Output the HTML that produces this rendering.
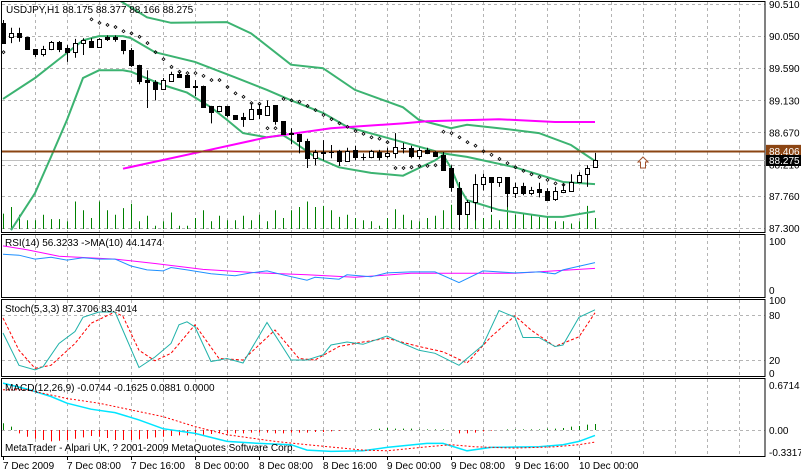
<!DOCTYPE html>
<html><head><meta charset="utf-8"><style>
html,body{margin:0;padding:0;background:#fff;}
svg{display:block;font-family:"Liberation Sans",sans-serif;font-size:10px;}
</style></head><body>
<svg id="chart" width="801" height="473" viewBox="0 0 801 473" xmlns="http://www.w3.org/2000/svg"></svg>
<script>
// ---- data ----
const opens=[90.24,90.04,90.09,90.04,89.86,89.79,89.86,89.97,89.88,89.82,89.95,89.98,89.89,90.04,90.04,89.99,89.85,89.64,89.42,89.39,89.29,89.41,89.51,89.49,89.34,89.34,89.05,88.98,89.05,88.92,88.89,88.86,89.00,88.92,89.06,88.83,88.66,88.65,88.55,88.30,88.39,88.39,88.40,88.26,88.42,88.32,88.32,88.39,88.33,88.37,88.45,88.45,88.33,88.42,88.39,88.35,88.16,87.87,87.50,87.67,87.93,88.03,87.96,88.03,87.80,87.90,87.80,87.86,87.83,87.72,87.82,87.83,87.96,88.07,88.175];
const highs=[90.28,90.17,90.17,90.04,89.86,89.91,89.98,89.98,89.92,90.01,90.02,90.02,90.02,90.06,90.06,89.99,89.88,89.64,89.56,89.42,89.45,89.54,89.54,89.51,89.42,89.34,89.05,89.05,89.05,88.92,88.95,89.09,89.08,89.13,89.06,88.83,88.73,88.65,88.58,88.42,88.56,88.49,88.42,88.45,88.48,88.37,88.42,88.42,88.45,88.66,88.52,88.48,88.45,88.45,88.40,88.39,88.20,87.96,87.70,88.07,88.08,88.03,88.03,88.03,87.95,87.95,87.89,87.95,87.87,87.89,87.93,88.07,88.10,88.20,88.377];
const lows=[89.94,89.95,89.97,89.86,89.75,89.76,89.85,89.82,89.68,89.74,89.78,89.89,89.89,89.98,89.97,89.79,89.61,89.36,89.02,89.13,89.29,89.41,89.45,89.31,89.19,89.03,88.80,88.96,88.89,88.85,88.75,88.86,88.86,88.92,88.78,88.65,88.50,88.37,88.16,88.20,88.27,88.30,88.19,88.26,88.27,88.27,88.30,88.27,88.30,88.30,88.37,88.30,88.29,88.36,88.32,88.13,87.82,87.27,87.49,87.41,87.84,87.53,87.89,87.60,87.73,87.77,87.77,87.74,87.69,87.69,87.80,87.83,87.96,87.89,88.166];
const closes=[89.95,90.09,90.04,89.86,89.79,89.86,89.97,89.86,89.82,89.95,89.99,89.89,90.01,90.01,90.01,89.85,89.64,89.41,89.39,89.29,89.42,89.51,89.46,89.32,89.32,89.03,88.96,89.05,88.92,88.86,88.86,89.00,88.93,89.05,88.83,88.65,88.65,88.55,88.30,88.39,88.38,88.39,88.26,88.40,88.32,88.32,88.40,88.32,88.37,88.46,88.45,88.33,88.42,88.37,88.33,88.13,87.89,87.50,87.67,87.93,88.03,87.96,88.03,87.80,87.89,87.80,87.84,87.82,87.70,87.83,87.84,87.96,88.06,88.16,88.275];
const volumes=[14,20,13,8,8,13,9,9,7,25,17,10,25,17,13,19,23,7,12,3,7,15,3,3,10,17,7,12,8,8,12,8,13,7,17,10,17,20,25,20,21,17,11,13,10,8,7,3,10,18,13,8,7,10,12,17,22,13,17,18,10,13,8,23,13,15,13,11,11,7,7,5,7,21,10];
const bbMidIdx=[0,4,8,10,12,15,16,19,24,29,33,36,40,43,50,55,58,64,70,74];
const bbMidVal=[89.15,89.45,89.81,89.99,90.05,90.05,90.02,89.82,89.68,89.46,89.28,89.13,88.95,88.75,88.53,88.37,88.32,88.17,87.96,87.93];
const bbUpIdx=[14,18,21,28,31,36,40,44,50,52,56,58,62,67,71,74];
const bbUpVal=[90.60,90.32,90.24,90.25,90.09,89.64,89.59,89.28,89.03,88.85,88.73,88.78,88.73,88.66,88.49,88.26];
const bbLoIdx=[1,4,6,8,10,12,15,16,20,23,26,28,30,33,35,36,39,42,46,50,52,54,55,56,57,58,62,68,70,74];
const bbLoVal=[87.27,87.80,88.32,88.85,89.45,89.56,89.56,89.54,89.35,89.24,89.03,88.85,88.66,88.60,88.63,88.56,88.32,88.17,88.09,88.05,88.16,88.27,88.35,88.16,87.89,87.70,87.56,87.46,87.46,87.54];
const sarIdx=[0,11,12,13,14,15,16,17,18,19,20,21,22,23,24,25,26,27,28,29,30,31,32,33,34,35,36,37,38,39,40,41,42,43,44,45,46,47,48,49,50,51,52,53,54,55,56,57,58,59,60,61,62,63,64,65,66,67,68,69,70];
const sarVal=[89.82,90.29,90.24,90.21,90.18,90.12,90.09,90.04,89.95,89.82,89.72,89.61,89.54,89.52,89.52,89.48,89.42,89.42,89.32,89.23,89.18,89.09,89.08,88.73,88.73,89.15,89.13,89.11,89.05,88.99,88.92,88.86,88.80,88.75,88.69,88.65,88.60,88.58,88.53,88.16,88.16,88.17,88.19,88.19,88.20,88.68,88.66,88.60,88.53,88.48,88.40,88.35,88.29,88.23,88.17,88.12,88.07,88.03,87.99,87.94,87.92];
const maIdx=[15,25,33,41,50,53,62,69,74];
const maVal=[88.15,88.40,88.60,88.73,88.80,88.83,88.86,88.82,88.82];
const priceTicks=[90.510,90.050,89.590,89.130,88.670,88.210,87.760,87.300];
const priceTickLabels=["90.510","90.050","89.590","89.130","88.670","88.210","87.760","87.300"];
const hlinePrice=88.406;
const bidPrice=88.275;
const rsiIdx=[0,2,4,6,8,10,12,14,16,18,20,21,23,26,29,31,33,35,38,39,42,43,46,48,51,54,57,60,64,67,69,70,74];
const rsiVal=[73,71,63,67,61,66,63,63,49,41,39,46,41,33,29,35,39,31,20,26,22,31,27,35,37,37,15,39,35,37,33,41,56];
const rsiMaIdx=[0,3,7,14,19,25,32,38,44,51,57,64,74];
const rsiMaVal=[90,82,69,63,54,42,35,31,26,34,34,34,44];
const stIdx=[0,2,4,5,7,9,10,12,14,17,19,21,22,23,24,26,28,30,33,36,38,40,41,43,45,48,50,52,54,57,60,62,64,65,67,69,70,72,74];
const stVal=[56,13,7,11,42,58,77,84,84,10,24,42,67,71,64,18,22,16,70,20,20,27,40,44,41,52,42,33,29,13,40,86,77,50,50,38,40,77,87];
const sgIdx=[0,2,4,6,9,11,14,15,17,19,21,24,27,30,34,37,39,42,45,48,52,55,58,61,64,66,69,72,74];
const sgVal=[76,33,9,13,42,69,84,78,33,19,29,67,22,20,60,22,20,38,44,49,38,31,16,51,79,60,38,51,83];
const macdIdx=[0,3,6,8,11,14,17,20,24,28,32,36,38,41,45,48,53,55,58,61,67,70,72,74];
const macdVal=[0.70,0.61,0.50,0.40,0.31,0.26,0.15,0.02,-0.05,-0.17,-0.20,-0.22,-0.30,-0.32,-0.31,-0.26,-0.20,-0.20,-0.31,-0.26,-0.25,-0.22,-0.17,-0.08];
const sigIdx=[0,3,8,12,16,20,24,28,34,38,45,48,53,56,59,64,69,72,74];
const sigVal=[0.60,0.60,0.47,0.40,0.30,0.20,0.05,-0.07,-0.17,-0.22,-0.30,-0.31,-0.25,-0.22,-0.25,-0.27,-0.25,-0.22,-0.18];
const histVal=[0.10,0.05,-0.05,-0.10,-0.13,-0.15,-0.17,-0.16,-0.15,-0.13,-0.11,-0.09,-0.10,-0.12,-0.15,-0.15,-0.15,-0.14,-0.13,-0.11,-0.10,-0.09,-0.08,-0.08,-0.07,-0.07,-0.06,-0.05,-0.05,-0.05,-0.05,-0.04,-0.04,-0.04,-0.05,-0.05,-0.04,-0.04,-0.04,-0.03,-0.03,-0.02,-0.01,0,0,0,0.01,0.02,0.03,0.02,0.02,0.02,0.01,0.01,0.01,0.01,0,-0.05,-0.05,-0.04,-0.02,-0.01,0,0.01,0.01,0.01,0.01,0.01,0.02,0.02,0.03,0.05,0.06,0.08,0.09];
const dateLabels=["7 Dec 2009","7 Dec 08:00","7 Dec 16:00","8 Dec 00:00","8 Dec 08:00","8 Dec 16:00","9 Dec 00:00","9 Dec 08:00","9 Dec 16:00","10 Dec 00:00"];
const dateIdx=[0,8,16,24,32,40,48,56,64,72];

// ---- axes ----
const svg=document.getElementById('chart');
const NS='http://www.w3.org/2000/svg';
const R=765;
const xb=i=>3+8*i;
const yP=p=>4+(90.51-p)*69.8;
const yVol=v=>229-v*1.1;
const yRsi=v=>290-v*0.49;
const ySt=v=>375-v*0.75;
const yMacd=v=>430-v*67;
function mk(tag,a,parent){const e=document.createElementNS(NS,tag);for(const k in a)e.setAttribute(k,a[k]);(parent||svg).appendChild(e);return e;}
function poly(idx,val,yf,attrs,parent){return mk('polyline',Object.assign({points:idx.map((ix,k)=>xb(ix)+','+yf(val[k]).toFixed(1)).join(' '),fill:'none'},attrs),parent);}
const panels=[[1,232],[234,297],[299,376],[378,456]];
const defs=mk('defs',{});
const cp=mk('clipPath',{id:'mainclip'},defs);
mk('rect',{x:2,y:2,width:R-2,height:229},cp);
const cp2=mk('clipPath',{id:'subclip'},defs);
mk('rect',{x:2,y:234,width:R-2,height:222},cp2);

const grid=mk('g',{stroke:'#b4b4b4','stroke-dasharray':'3,3','stroke-width':1});


for(let k=1;k<=23;k++){const x=3+32*k+0.5;panels.forEach(p=>mk('line',{x1:x,x2:x,y1:p[0]+1,y2:p[1]},grid));}
priceTicks.forEach(p=>{const y=Math.round(yP(p))+0.5;mk('line',{x1:2,x2:R,y1:y,y2:y},grid);});
[80,20].forEach(v=>{const y=Math.round(ySt(v))+0.5;mk('line',{x1:2,x2:R,y1:y,y2:y},grid);});
{const y=Math.round(yMacd(0))+0.5;mk('line',{x1:2,x2:R,y1:y,y2:y},grid);}

panels.forEach((p,k)=>{const r=mk('rect',{x:1.5,y:p[0]+0.5,width:R-1.5,height:p[1]-p[0],fill:'none',stroke:'#000'});

});

const main=mk('g',{'clip-path':'url(#mainclip)'});


volumes.forEach((v,i)=>{const l=mk('line',{x1:xb(i)+0.5,x2:xb(i)+0.5,y1:229,y2:yVol(v),stroke:'#008000'},main);

});
const bl=mk('line',{x1:2,x2:R,y1:Math.round(yP(bidPrice))+0.5,y2:Math.round(yP(bidPrice))+0.5,stroke:'#c0c0c0'},main);


[[bbUpIdx,bbUpVal,'bollinger-upper'],[bbMidIdx,bbMidVal,'bollinger-middle'],[bbLoIdx,bbLoVal,'bollinger-lower']].forEach(b=>{
const pl=poly(b[0],b[1],yP,{stroke:'#3cb371','stroke-width':2},main);

});
const ma=poly(maIdx,maVal,yP,{stroke:'#ff00ff','stroke-width':2},main);


const hl=mk('line',{x1:2,x2:R,y1:Math.round(yP(hlinePrice))+0.5,y2:Math.round(yP(hlinePrice))+0.5,stroke:'#8b4513','stroke-width':2},main);


opens.forEach((o,i)=>{const x=xb(i)+0.5,c=closes[i];
const g=mk('g',{},main);


mk('line',{x1:x,x2:x,y1:yP(highs[i]),y2:yP(lows[i]),stroke:'#000'},g);
const t=Math.round(yP(Math.max(o,c)))+0.5,b=Math.round(yP(Math.min(o,c)))+0.5;
if(b-t<1)mk('line',{x1:x-2.5,x2:x+2.5,y1:t,y2:t,stroke:'#000'},g);
else mk('rect',{x:x-2,y:t,width:4,height:b-t,fill:c>=o?'#fff':'#000',stroke:'#000'},g);});
sarIdx.forEach((ix,k)=>{const x=xb(ix)+0.5,y=yP(sarVal[k]);
const d=mk('polygon',{points:`${x},${y-1.5} ${x+1.5},${y} ${x},${y+1.5} ${x-1.5},${y}`,fill:'none',stroke:'#000','stroke-width':0.8},main);

});
const arr=mk('polygon',{points:'643,157 648,162 645.5,162 645.5,168 640.5,168 640.5,162 638,162',fill:'#fff',stroke:'#a0522d'},main);



const sub=mk('g',{'clip-path':'url(#subclip)'});


const rm=poly(rsiMaIdx,rsiMaVal,yRsi,{stroke:'#ff00ff'},sub);


const rl=poly(rsiIdx,rsiVal,yRsi,{stroke:'#1e90ff'},sub);


const sgl=poly(sgIdx,sgVal,ySt,{stroke:'#ff0000','stroke-dasharray':'3,2'},sub);


const stl=poly(stIdx,stVal,ySt,{stroke:'#20b2aa'},sub);


histVal.forEach((v,i)=>{const l=mk('line',{x1:xb(i)+0.5,x2:xb(i)+0.5,y1:yMacd(0),y2:yMacd(v),stroke:v>=0?'#008000':'#ff0000'},sub);

});
const ml=poly(macdIdx,macdVal,yMacd,{stroke:'#00e5ff','stroke-width':1.5},sub);


const sl=poly(sigIdx,sigVal,yMacd,{stroke:'#ff0000','stroke-dasharray':'2,2'},sub);



function txt(x,y,s,name,attrs){const t=mk('text',Object.assign({x:x,y:y,fill:'#000'},attrs||{}));t.textContent=s;

return t;}
priceTicks.forEach((p,k)=>txt(769,yP(p)+4,priceTickLabels[k],'price-tick-label'));
const hb=mk('rect',{x:766,y:yP(hlinePrice)-6,width:35,height:12,fill:'#8b4513'});


txt(769,yP(hlinePrice)+4,'88.406','hline-price-label',{fill:'#fff'});
const bb=mk('rect',{x:766,y:yP(bidPrice)-5,width:35,height:11,fill:'#000'});


txt(769,yP(bidPrice)+4,'88.275','bid-price-label',{fill:'#fff'});
txt(769,yRsi(100)+4,'100','rsi-tick-label');
txt(769,yRsi(0)+4,'0','rsi-tick-label');
txt(769,ySt(100)+4,'100','stoch-tick-label');
txt(769,ySt(80)+4,'80','stoch-tick-label');
txt(769,ySt(20)+4,'20','stoch-tick-label');
txt(769,ySt(0)+2,'0','stoch-tick-label');
txt(769,yMacd(0.6714)+4,'0.6714','macd-tick-label');
txt(769,yMacd(0)+4,'0.00','macd-tick-label');
txt(769,yMacd(-0.3317)+4,'-0.3317','macd-tick-label');
dateLabels.forEach((s,k)=>{const x=xb(dateIdx[k]);
const tk=mk('line',{x1:x+0.5,x2:x+0.5,y1:456,y2:460,stroke:'#000'});


txt(x,469,s,'date-label');});
txt(6,13,'USDJPY,H1  88.175 88.377 88.166 88.275','price-header');
txt(5,246,'RSI(14) 56.3233   ->MA(10) 44.1474','rsi-header');
txt(5,312,'Stoch(5,3,3) 87.3706 83.4014','stoch-header');
txt(5,391,'MACD(12,26,9) -0.0744 -0.1625 0.0881 0.0000','macd-header');
txt(5,451,'MetaTrader - Alpari UK, ? 2001-2009 MetaQuotes Software Corp.','copyright-text');
</script>
</body></html>
